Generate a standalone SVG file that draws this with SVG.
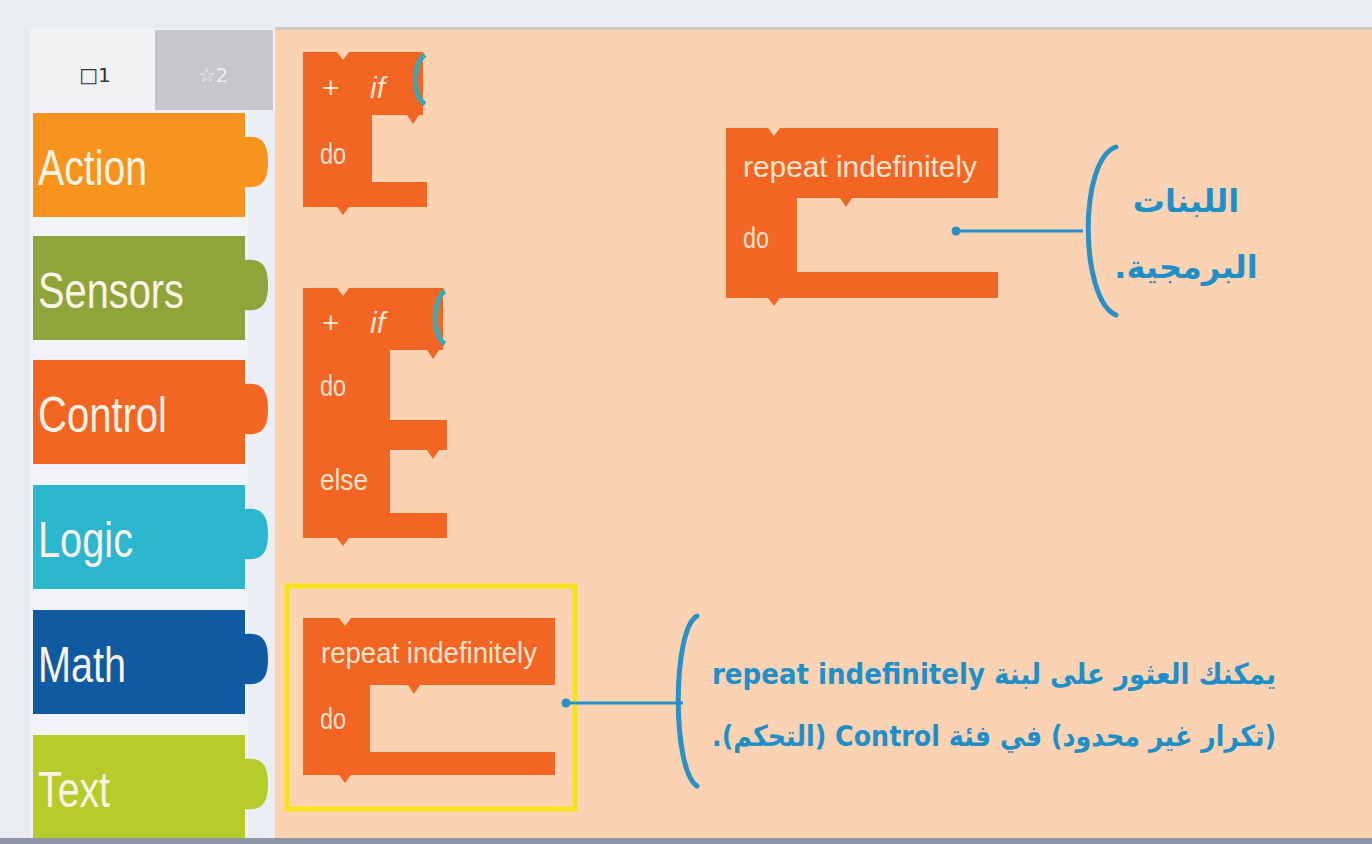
<svg xmlns="http://www.w3.org/2000/svg" width="1372" height="844" viewBox="0 0 1372 844">
<defs>
<style>
.cat{font-family:"Liberation Sans",Arial,sans-serif;font-size:50px;fill:#fbf3e6}
.blk{fill:#f26522}
.bt{font-family:"Liberation Sans",Arial,sans-serif;font-size:30px;fill:#fbe3cf}
.ar{font-family:"DejaVu Sans","Noto Sans",sans-serif;font-weight:bold;fill:#1f8fc9}
.br{fill:none;stroke:#2a90c8;stroke-width:5;stroke-linecap:round}
.ln{stroke:#2a90c8;stroke-width:3}
.sock{fill:none;stroke:#3fa6b3;stroke-width:5}
</style>
</defs>
<rect x="0" y="0" width="1372" height="844" fill="#e9edf1"/>
<rect x="275" y="29" width="1097" height="810" fill="#fbd3b2"/>
<rect x="275" y="27" width="1097" height="3" fill="#cfc6bd"/>
<rect x="30" y="29" width="245" height="810" fill="#f3f4f9"/>
<rect x="248" y="110" width="27" height="729" fill="#eceef5"/>
<rect x="0" y="838" width="1372" height="6" fill="#8e97a6"/>

<g id="tab1"><rect x="32" y="30" width="123" height="80" fill="#f2f2f4"/><text x="95" y="82" text-anchor="middle" font-family="DejaVu Sans,sans-serif" font-size="20" fill="#333">□1</text></g>
<g id="tab2"><rect x="155" y="30" width="118" height="80" fill="#c6c6cc"/><text x="213" y="82" text-anchor="middle" font-family="DejaVu Sans,sans-serif" font-size="20" fill="#eeeeee">☆2</text></g>

<g id="cat-action"><path fill="#f7941d" d="M33,113 H245 V137 C262,135 268,143 268,162 C268,181 262,189 245,187 V217 H33 Z"/><text class="cat" x="38" y="185" textLength="109" lengthAdjust="spacingAndGlyphs">Action</text></g>
<g id="cat-sensors"><path fill="#8fa43a" d="M33,236 H245 V260 C262,258 268,266 268,285 C268,304 262,312 245,310 V340 H33 Z"/><text class="cat" x="38" y="308" textLength="146" lengthAdjust="spacingAndGlyphs">Sensors</text></g>
<g id="cat-control"><path fill="#f26522" d="M33,360 H245 V384 C262,382 268,390 268,409 C268,428 262,436 245,434 V464 H33 Z"/><text class="cat" x="38" y="432" textLength="129" lengthAdjust="spacingAndGlyphs">Control</text></g>
<g id="cat-logic"><path fill="#2cb7cf" d="M33,485 H245 V509 C262,507 268,515 268,534 C268,553 262,561 245,559 V589 H33 Z"/><text class="cat" x="38" y="557" textLength="95" lengthAdjust="spacingAndGlyphs">Logic</text></g>
<g id="cat-math"><path fill="#0f5aa0" d="M33,610 H245 V634 C262,632 268,640 268,659 C268,678 262,686 245,684 V714 H33 Z"/><text class="cat" x="38" y="682" textLength="88" lengthAdjust="spacingAndGlyphs">Math</text></g>
<g id="cat-text"><path fill="#b6cc2a" d="M33,735 H245 V759 C262,757 268,765 268,784 C268,803 262,811 245,809 V838 H33 Z"/><text class="cat" x="38" y="807" textLength="72" lengthAdjust="spacingAndGlyphs">Text</text></g>

<g id="block-if">
<path class="blk" d="M303,52 H337 L343,60 L349,52 H423 V115 H419 L413,124 L407,115 H372 V182 H427 V207 H349 L343,215 L337,207 H303 Z"/>
<path class="sock" d="M425,55 C413,62 411,96 425,104"/>
<text class="bt" x="322" y="98" font-size="30">+</text>
<text class="bt" x="370" y="98" font-style="italic">if</text>
<text class="bt" x="320" y="164" textLength="26" lengthAdjust="spacingAndGlyphs">do</text>
</g>

<g id="block-ifelse">
<path class="blk" d="M303,288 H337 L343,296 L349,288 H443 V350 H439 L433,359 L427,350 H390 V420 H447 V450 H439 L433,459 L427,450 H390 V513 H447 V538 H349 L343,546 L337,538 H303 Z"/>
<path class="sock" d="M445,291 C433,298 431,336 445,344"/>
<text class="bt" x="322" y="333" font-size="30">+</text>
<text class="bt" x="370" y="333" font-style="italic">if</text>
<text class="bt" x="320" y="396" textLength="26" lengthAdjust="spacingAndGlyphs">do</text>
<text class="bt" x="320" y="490" textLength="48" lengthAdjust="spacingAndGlyphs">else</text>
</g>

<g id="block-repeat-highlight">
<rect x="287" y="586" width="288" height="223" fill="none" stroke="#f7e21a" stroke-width="5"/>
<path class="blk" d="M303,618 H339 L345,626 L351,618 H555 V685 H420 L414,694 L408,685 H370 V752 H555 V775 H351 L345,783 L339,775 H303 Z"/>
<text class="bt" x="321" y="663" textLength="216" lengthAdjust="spacingAndGlyphs">repeat indefinitely</text>
<text class="bt" x="320" y="729" textLength="26" lengthAdjust="spacingAndGlyphs">do</text>
</g>

<g id="block-repeat">
<path class="blk" d="M726,128 H768 L774,136 L780,128 H998 V198 H852 L846,207 L840,198 H797 V272 H998 V298 H780 L774,306 L768,298 H726 Z"/>
<text class="bt" x="743" y="177" textLength="234" lengthAdjust="spacingAndGlyphs">repeat indefinitely</text>
<text class="bt" x="743" y="248" textLength="26" lengthAdjust="spacingAndGlyphs">do</text>
</g>

<g id="connectors">
<circle cx="956" cy="231" r="4.5" fill="#2a90c8"/>
<line class="ln" x1="956" y1="231" x2="1083" y2="231"/>
<path class="br" d="M1116,147 C1078,160 1080,300 1116,315"/>
<circle cx="566" cy="703" r="4.5" fill="#2a90c8"/>
<line class="ln" x1="566" y1="703" x2="683" y2="703"/>
<path class="br" d="M697,616 C672,630 672,770 697,786"/>
</g>

<g id="label-blocks">
<text class="ar" x="1186" y="212" font-size="32" text-anchor="middle" direction="rtl">اللبنات</text>
<text class="ar" x="1186" y="278" font-size="32" text-anchor="middle" direction="rtl">البرمجية.</text>
</g>
<g id="label-control">
<text class="ar" x="1276" y="684" font-size="29" direction="rtl" text-anchor="start" textLength="564" lengthAdjust="spacingAndGlyphs">يمكنك العثور على لبنة repeat indefinitely</text>
<text class="ar" x="1276" y="746" font-size="29" direction="rtl" text-anchor="start" textLength="564" lengthAdjust="spacingAndGlyphs">(تكرار غير محدود) في فئة Control (التحكم).</text>
</g>
</svg>
